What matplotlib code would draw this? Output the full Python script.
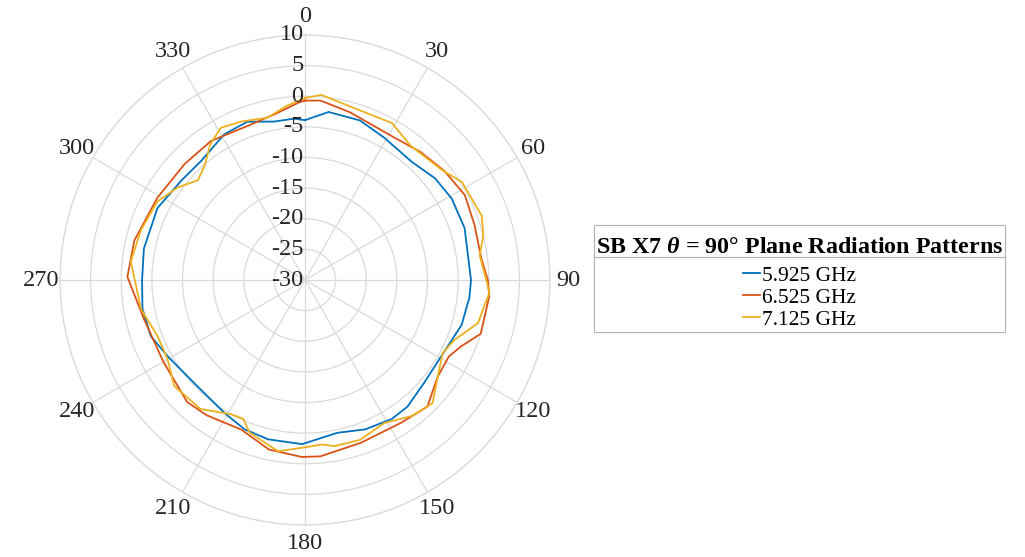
import numpy as np
import matplotlib
matplotlib.use("Agg")
import matplotlib.pyplot as plt
from matplotlib.lines import Line2D
from matplotlib.offsetbox import VPacker, DrawingArea

plt.rcParams['font.family'] = ['Liberation Serif', 'DejaVu Serif']
plt.rcParams['mathtext.fontset'] = 'custom'
plt.rcParams['mathtext.it'] = 'Liberation Serif:italic:bold'
plt.rcParams['mathtext.rm'] = 'Liberation Serif:bold'

# Datos (angulo en grados, ganancia en dB)
ang_5925 = [0, 8, 19, 29, 42, 52, 61, 72, 90, 96, 106, 119, 131, 141, 148, 158, 168,
            181, 193, 202, 211, 226, 241, 250, 260, 270, 281, 296, 309, 319, 331, 340,
            349, 356, 360]
g_5925 = [-3.9, -2.3, -2.45, -3.4, -4.0, -3.05, -2.6, -2.6, -2.9, -3.0, -3.4, -4.5, -4.3,
          -3.4, -3.25, -3.7, -4.5, -3.2, -3.3, -3.7, -4.6, -5.3, -4.35, -3.2, -3.05, -3.4,
          -3.2, -3.2, -4.1, -4.2, -2.8, -2.5, -3.65, -3.6, -3.9]

ang_6525 = [0, 5, 15, 32, 42, 52, 62, 72, 83, 90, 95, 107, 113, 118, 126, 136, 146, 161,
            175, 181, 192, 203, 216, 224, 240, 256, 271, 283, 299, 314, 326, 340, 350,
            358, 360]
g_6525 = [-0.7, -0.6, -1.65, -2.55, -1.85, -1.1, -0.45, -0.9, -1.0, -0.15, 0.2, 0.0, -2.3,
          -3.4, -3.2, -1.25, -1.9, -1.9, -1.1, -1.1, -1.7, -3.45, -2.7, -2.3, -3.3, -2.97,
          -1.0, -1.4, -2.4, -2.7, -2.6, -3.15, -2.45, -1.0, -0.7]

ang_7125 = [0, 5, 18, 29, 38, 51, 58, 70, 76, 82, 90, 94, 98, 104, 112, 118, 126, 134,
            142, 151, 161, 170, 174, 181, 189, 200, 204, 209, 219, 231, 240, 249, 260,
            271, 276, 287, 298, 306, 313, 319, 325, 331, 338, 347, 354, 360]
g_7125 = [-0.3, 0.35, -0.9, -0.7, -2.1, -1.35, 0.2, 0.7, 0.0, -1.2, -0.4, 0.2, -0.4, -0.9,
          -3.75, -4.55, -3.2, -1.05, -1.8, -3.3, -2.4, -2.45, -3.0, -2.6, -1.7, -3.5, -5.2,
          -4.95, -2.9, -2.5, -4.1, -4.25, -2.8, -2.1, -1.4, -2.0, -2.7, -4.3, -6.1, -5.1,
          -3.0, -1.6, -2.1, -2.8, -1.4, -0.3]

etiquetas = ['5.925 GHz', '6.525 GHz', '7.125 GHz']
colores = ['#0072BD', '#D95319', '#EDB120']
r_ticks = [-30, -25, -20, -15, -10, -5, 0, 5, 10]
theta_ticks = [0, 30, 60, 90, 120, 150, 180, 210, 240, 270, 300, 330]
titulo = r'SB X7 $\theta$ = 90° Plane Radiation Patterns'

fig = plt.figure(figsize=(10.25, 5.57), dpi=100)
ax = fig.add_axes([60 / 1025, 32 / 557, 490 / 1025, 490 / 557], projection='polar')
ax.set_theta_zero_location('N')
ax.set_theta_direction(-1)
ax.set_ylim(-30, 10)

# Curvas
lineas = []
for a, g, c, lab in zip([ang_5925, ang_6525, ang_7125], [g_5925, g_6525, g_7125],
                        colores, etiquetas):
    l, = ax.plot(np.deg2rad(a), g, color=c, lw=1.3, label=lab)
    lineas.append(l)

# Rejilla
ax.set_yticks(r_ticks)
ax.set_yticklabels([])
ax.set_xticks(np.deg2rad(theta_ticks))
ax.set_xticklabels([str(t) for t in theta_ticks], fontsize=17.5, color='#262626')
ax.tick_params(axis='x', pad=3)
ax.grid(color='#dadada', lw=0.9)
ax.spines['polar'].set_color('#dadada')
ax.spines['polar'].set_linewidth(0.9)

for r in r_ticks:
    ax.annotate(str(r), xy=(0, r), xytext=(-1, 0), textcoords='offset points',
                ha='right', va='center', fontsize=17.5, color='#262626')

# Leyenda
leg = fig.legend(handles=lineas, labels=etiquetas, title=titulo, loc='upper left',
                 bbox_to_anchor=(594 / 1025, 1 - 225 / 557), fontsize=15.5,
                 title_fontsize=17.3, handlelength=0.8, handletextpad=0.1,
                 labelspacing=0.1, borderpad=0.1, fancybox=False,
                 edgecolor='#b0b0b0', framealpha=1, borderaxespad=0)
leg.get_title().set_fontweight('bold')
leg.get_frame().set_linewidth(0.8)
# espacio extra arriba del titulo
leg._legend_box._children[0] = VPacker(children=[DrawingArea(1, 7), leg._legend_title_box],
                                       pad=0, sep=0, align='center')
leg._legend_box.sep = 5.5

fig.canvas.draw()
bb = leg.get_window_extent()
tb = leg.get_title().get_window_extent()
y_sep = (tb.y0 + 1) / fig.bbox.height
fig.add_artist(Line2D([bb.x0 / fig.bbox.width, bb.x1 / fig.bbox.width], [y_sep, y_sep],
                      color='#b0b0b0', lw=0.8, zorder=10))

fig.savefig('out.png', dpi=100, facecolor='white')
